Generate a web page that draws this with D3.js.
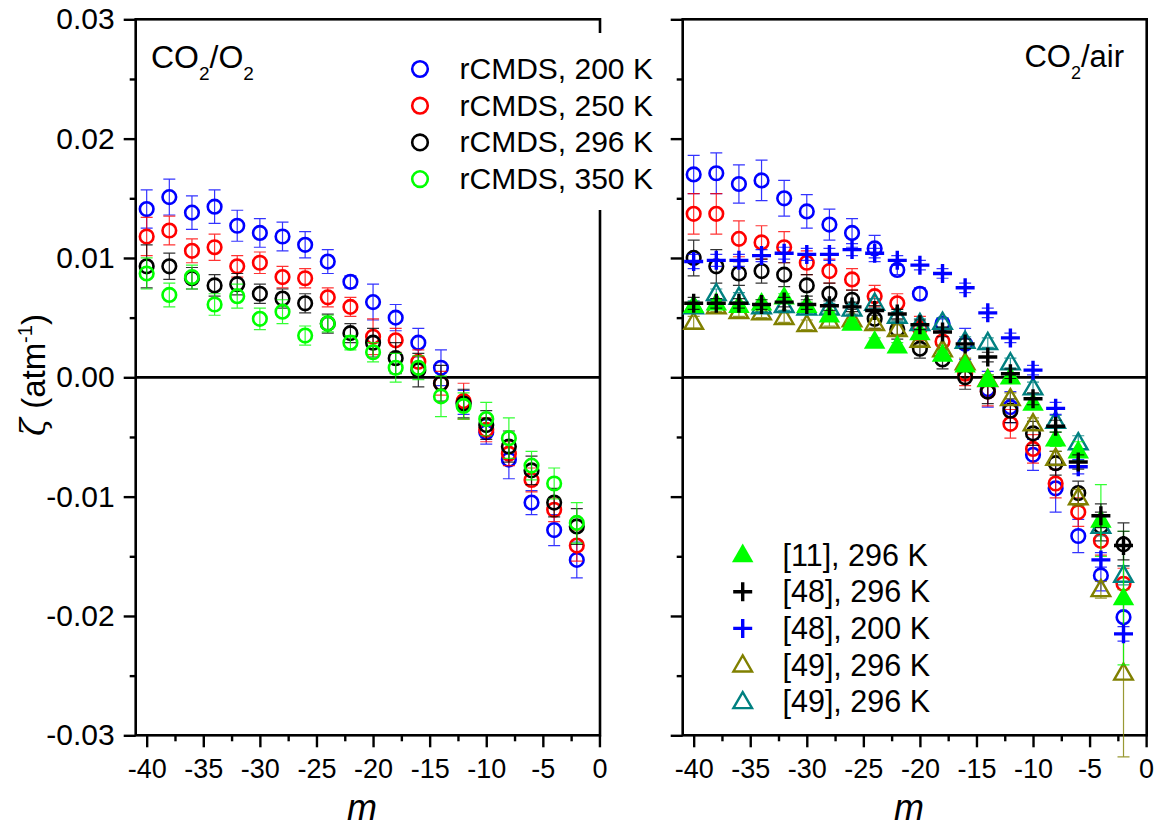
<!DOCTYPE html>
<html>
<head>
<meta charset="utf-8">
<script src="https://cdn.jsdelivr.net/npm/d3@7"></script>
<style>
  body { margin: 0; background: #fff; }
  svg { display: block; font-family: "Liberation Sans", Arial, sans-serif; }
</style>
</head>
<body>
<div id="chart"></div>
<script>
// rotational index m for every point
const mVals = [-40, -38, -36, -34, -32, -30, -28, -26, -24, -22, -20, -18, -16, -14, -12, -10, -8, -6, -4, -2];

// ---- left panel: CO2/O2, rCMDS ----
const o2_200    = [0.0141, 0.0151, 0.0138, 0.0143, 0.0127, 0.0121, 0.0118, 0.0111, 0.0097, 0.0080, 0.0063, 0.0050, 0.0029, 0.0008, -0.0021, -0.0046, -0.0069, -0.0105, -0.0128, -0.0153];
const o2_200Err = [0.0016, 0.0015, 0.0014, 0.0014, 0.0013, 0.0012, 0.0012, 0.0011, 0.0010, 0.0005, 0.0015, 0.0011, 0.0012, 0.0015, 0.0010, 0.0010, 0.0016, 0.0010, 0.0013, 0.0015];
const o2_250    = [0.0118, 0.0123, 0.0106, 0.0109, 0.0093, 0.0096, 0.0084, 0.0083, 0.0067, 0.0059, 0.0034, 0.0031, 0.0013, -0.0005, -0.0020, -0.0044, -0.0064, -0.0086, -0.0111, -0.0141];
const o2_250Err = [0.0016, 0.0012, 0.0010, 0.0011, 0.0009, 0.0009, 0.0009, 0.0008, 0.0008, 0.0008, 0.0015, 0.0010, 0.0010, 0.0010, 0.0015, 0.0010, 0.0010, 0.0010, 0.0010, 0.0013];
const o2_296    = [0.0093, 0.0093, 0.0083, 0.0077, 0.0078, 0.0070, 0.0066, 0.0062, 0.0045, 0.0037, 0.0029, 0.0016, 0.0006, -0.0005, -0.0022, -0.0040, -0.0058, -0.0078, -0.0105, -0.0125];
const o2_296Err = [0.0018, 0.0011, 0.0009, 0.0009, 0.0009, 0.0008, 0.0008, 0.0008, 0.0008, 0.0008, 0.0012, 0.0013, 0.0014, 0.0015, 0.0012, 0.0012, 0.0013, 0.0012, 0.0012, 0.0015];
const o2_350    = [0.0087, 0.0069, 0.0084, 0.0061, 0.0068, 0.0049, 0.0055, 0.0035, 0.0045, 0.0029, 0.0021, 0.0008, 0.0008, -0.0016, -0.0024, -0.0035, -0.0051, -0.0074, -0.0089, -0.0122];
const o2_350Err = [0.0013, 0.0010, 0.0010, 0.0009, 0.0010, 0.0009, 0.0010, 0.0008, 0.0007, 0.0006, 0.0008, 0.0012, 0.0010, 0.0017, 0.0011, 0.0014, 0.0017, 0.0012, 0.0013, 0.0017];

// ---- right panel: CO2/air, rCMDS and literature ----
const air_200    = [0.0170, 0.0171, 0.0162, 0.0165, 0.0150, 0.0139, 0.0128, 0.0121, 0.0108, 0.0090, 0.0070, 0.0045, 0.0028, -0.0010, -0.0025, -0.0065, -0.0093, -0.0133, -0.0166, -0.0201];
const air_200Err = [0.0016, 0.0017, 0.0016, 0.0017, 0.0015, 0.0014, 0.0013, 0.0012, 0.0011, 0.0004, 0.0005, 0.0004, 0.0013, 0.0015, 0.0013, 0.0013, 0.0020, 0.0014, 0.0013, 0.0014];
const air_250    = [0.0137, 0.0137, 0.0116, 0.0113, 0.0109, 0.0096, 0.0089, 0.0082, 0.0068, 0.0062, 0.0041, 0.0030, 0.0003, -0.0012, -0.0039, -0.0060, -0.0089, -0.0113, -0.0137, -0.0173];
const air_250Err = [0.0017, 0.0017, 0.0015, 0.0014, 0.0013, 0.0010, 0.0010, 0.0009, 0.0009, 0.0008, 0.0010, 0.0010, 0.0010, 0.0012, 0.0012, 0.0012, 0.0012, 0.0012, 0.0012, 0.0013];
const air_296    = [0.0100, 0.0093, 0.0087, 0.0089, 0.0086, 0.0077, 0.0070, 0.0065, 0.0049, 0.0040, 0.0024, 0.0015, 0.0000, -0.0012, -0.0028, -0.0047, -0.0072, -0.0097, -0.0125, -0.0140];
const air_296Err = [0.0015, 0.0014, 0.0010, 0.0010, 0.0010, 0.0009, 0.0009, 0.0008, 0.0008, 0.0008, 0.0008, 0.0008, 0.0010, 0.0010, 0.0010, 0.0010, 0.0010, 0.0010, 0.0012, 0.0018];
const ref11_296    = [0.0060, 0.0062, 0.0060, 0.0062, 0.0067, 0.0060, 0.0052, 0.0045, 0.0030, 0.0026, 0.0037, 0.0019, 0.0010, -0.0002, 0.0000, -0.0022, -0.0052, -0.0062, -0.0120, -0.0185];
const ref11_296Err = [0.0003, 0.0003, 0.0003, 0.0003, 0.0003, 0.0003, 0.0003, 0.0003, 0.0003, 0.0003, 0.0003, 0.0003, 0.0003, 0.0004, 0.0004, 0.0005, 0.0006, 0.0008, 0.0030, 0.0056];
const ref48_296    = [0.0062, 0.0062, 0.0062, 0.0061, 0.0063, 0.0061, 0.0060, 0.0059, 0.0056, 0.0053, 0.0044, 0.0038, 0.0028, 0.0017, 0.0003, -0.0018, -0.0041, -0.0071, -0.0116, -0.0141];
const ref48_296Err = [0.0005, 0.0004, 0.0004, 0.0004, 0.0004, 0.0004, 0.0004, 0.0004, 0.0004, 0.0004, 0.0004, 0.0004, 0.0004, 0.0004, 0.0004, 0.0005, 0.0005, 0.0006, 0.0010, 0.0012];
const ref48_200    = [0.0097, 0.0098, 0.0098, 0.0102, 0.0104, 0.0103, 0.0103, 0.0107, 0.0104, 0.0098, 0.0094, 0.0087, 0.0075, 0.0054, 0.0033, 0.0006, -0.0026, -0.0075, -0.0153, -0.0215];
const ref48_200Err = [0.0006, 0.0005, 0.0005, 0.0005, 0.0005, 0.0005, 0.0005, 0.0005, 0.0004, 0.0004, 0.0004, 0.0004, 0.0004, 0.0004, 0.0004, 0.0004, 0.0005, 0.0006, 0.0006, 0.0006];
const ref49a_296    = [0.0046, 0.0059, 0.0055, 0.0054, 0.0050, 0.0044, 0.0047, 0.0048, 0.0045, 0.0040, 0.0031, 0.0023, 0.0012, -0.0002, -0.0018, -0.0039, -0.0068, -0.0101, -0.0178, -0.0248];
const ref49a_296Err = [0.0005, 0.0004, 0.0004, 0.0004, 0.0004, 0.0004, 0.0004, 0.0004, 0.0004, 0.0004, 0.0004, 0.0004, 0.0004, 0.0004, 0.0005, 0.0005, 0.0006, 0.0007, 0.0007, 0.0070];
const ref49b_296    = [0.0059, 0.0070, 0.0067, 0.0059, 0.0060, 0.0058, 0.0058, 0.0057, 0.0062, 0.0051, 0.0045, 0.0046, 0.0030, 0.0029, 0.0012, -0.0009, -0.0037, -0.0055, -0.0125, -0.0166];
const ref49b_296Err = [0.0005, 0.0004, 0.0004, 0.0004, 0.0004, 0.0004, 0.0004, 0.0004, 0.0004, 0.0004, 0.0004, 0.0004, 0.0004, 0.0004, 0.0004, 0.0005, 0.0005, 0.0006, 0.0008, 0.0008];

// axis ticks and labels
const xMajor = [-40, -35, -30, -25, -20, -15, -10, -5, 0];
const xMinor = [-37.5, -32.5, -27.5, -22.5, -17.5, -12.5, -7.5, -2.5];
const yMajor = [-0.03, -0.02, -0.01, 0, 0.01, 0.02, 0.03];
const yMajorLabels = ["-0.03", "-0.02", "-0.01", "0.00", "0.01", "0.02", "0.03"];
const yMinor = [-0.025, -0.015, -0.005, 0.005, 0.015, 0.025];

const leftLegend  = ["rCMDS, 200 K", "rCMDS, 250 K", "rCMDS, 296 K", "rCMDS, 350 K"];
const rightLegend = ["[11], 296 K", "[48], 296 K", "[48], 200 K", "[49], 296 K", "[49], 296 K"];

const C = { blue: "#0000ff", red: "#ff0000", black: "#000000", green: "#00ff00", olive: "#808000", teal: "#008080" };

const leftSeries = [
  { y: o2_200, err: o2_200Err, color: C.blue,  shape: "circle" },
  { y: o2_250, err: o2_250Err, color: C.red,   shape: "circle" },
  { y: o2_296, err: o2_296Err, color: C.black, shape: "circle" },
  { y: o2_350, err: o2_350Err, color: C.green, shape: "circle" }
];
const rightSeries = [
  { y: air_200,    err: air_200Err,    color: C.blue,  shape: "circle" },
  { y: air_250,    err: air_250Err,    color: C.red,   shape: "circle" },
  { y: air_296,    err: air_296Err,    color: C.black, shape: "circle" },
  { y: ref49a_296, err: ref49a_296Err, color: C.olive, shape: "tri" },
  { y: ref49b_296, err: ref49b_296Err, color: C.teal,  shape: "tri" },
  { y: ref11_296,  err: ref11_296Err,  color: C.green, shape: "triFill" },
  { y: ref48_200,  err: ref48_200Err,  color: C.blue,  shape: "plus" },
  { y: ref48_296,  err: ref48_296Err,  color: C.black, shape: "plus" }
];
const rightLegendStyle = [
  { color: C.green, shape: "triFill" },
  { color: C.black, shape: "plus" },
  { color: C.blue,  shape: "plus" },
  { color: C.olive, shape: "tri" },
  { color: C.teal,  shape: "tri" }
];

const W = 1158, H = 829;
const yTop = 19.3, yBot = 735.3;
const svg = d3.select("#chart").append("svg").attr("width", W).attr("height", H);

const y = d3.scaleLinear().domain([-0.03, 0.03]).range([yBot, yTop]);

const triPath = d3.symbol().type(d3.symbolTriangle);

function marker(g, shape, color, cx, cy) {
  if (shape === "circle") {
    g.append("circle").attr("cx", cx).attr("cy", cy).attr("r", 6.8)
      .attr("fill", "none").attr("stroke", color).attr("stroke-width", 2.6);
  } else if (shape === "tri") {
    g.append("path").attr("d", triPath.size(150)())
      .attr("transform", `translate(${cx},${cy + 1})`)
      .attr("fill", "none").attr("stroke", color).attr("stroke-width", 2.4);
  } else if (shape === "triFill") {
    g.append("path").attr("d", triPath.size(200)())
      .attr("transform", `translate(${cx},${cy + 1})`)
      .attr("fill", color).attr("stroke", "none");
  } else if (shape === "plus") {
    g.append("path").attr("d", `M${cx - 9.5},${cy}H${cx + 9.5}M${cx},${cy - 9.5}V${cy + 9.5}`)
      .attr("stroke", color).attr("stroke-width", 3.4).attr("fill", "none");
  }
}

function drawPanel(x0, x1, series) {
  const x = d3.scaleLinear().domain([-40.97, 0.05]).range([x0, x1]);
  const g = svg.append("g");

  // ticks
  g.append("g").attr("transform", `translate(0,${yBot})`)
    .call(d3.axisBottom(x).tickValues(xMajor).tickSizeInner(12).tickSizeOuter(0).tickPadding(11.5).tickFormat(d => String(d)))
    .call(a => a.select(".domain").remove())
    .call(a => a.selectAll("line").attr("stroke-width", 2.4))
    .call(a => a.selectAll("text").attr("font-size", 27).attr("font-family", "Liberation Sans, Arial, sans-serif").attr("fill", "#000"));
  g.append("g").attr("transform", `translate(0,${yBot})`)
    .call(d3.axisBottom(x).tickValues(xMinor).tickSizeInner(6).tickSizeOuter(0).tickFormat(""))
    .call(a => a.select(".domain").remove())
    .call(a => a.selectAll("line").attr("stroke-width", 2.4));

  g.append("g").attr("transform", `translate(${x0},0)`)
    .call(d3.axisLeft(y).tickValues(yMajor).tickSizeInner(12).tickSizeOuter(0).tickPadding(9)
      .tickFormat((d, i) => x0 < 300 ? yMajorLabels[i] : ""))
    .call(a => a.select(".domain").remove())
    .call(a => a.selectAll("line").attr("stroke-width", 2.4))
    .call(a => a.selectAll("text").attr("font-size", 30).attr("font-family", "Liberation Sans, Arial, sans-serif").attr("fill", "#000"));
  g.append("g").attr("transform", `translate(${x0},0)`)
    .call(d3.axisLeft(y).tickValues(yMinor).tickSizeInner(6).tickSizeOuter(0).tickFormat(""))
    .call(a => a.select(".domain").remove())
    .call(a => a.selectAll("line").attr("stroke-width", 2.4));

  // frame and zero line
  g.append("rect").attr("x", x0).attr("y", yTop).attr("width", x1 - x0).attr("height", yBot - yTop)
    .attr("fill", "none").attr("stroke", "#000").attr("stroke-width", 2.6);
  g.append("line").attr("x1", x0).attr("x2", x1).attr("y1", y(0)).attr("y2", y(0))
    .attr("stroke", "#000").attr("stroke-width", 2.8);

  // error bars + markers
  series.forEach(s => {
    const sg = g.append("g");
    mVals.forEach((m, i) => {
      const v = s.y[i];
      if (v == null) return;
      const cx = x(m), e = s.err[i];
      const ya = y(v + e), yb = y(v - e);
      sg.append("path")
        .attr("d", `M${cx},${ya}V${yb}M${cx - 6},${ya}H${cx + 6}M${cx - 6},${yb}H${cx + 6}`)
        .attr("stroke", s.color).attr("stroke-width", 1.2).attr("fill", "none").attr("opacity", 0.8);
      marker(sg, s.shape, s.color, cx, y(v));
    });
  });
  return g;
}

drawPanel(135.7, 600, leftSeries);

// left legend (white box overlaps the frame)
const lg = svg.append("g");
lg.append("rect").attr("x", 400).attr("y", 33).attr("width", 266).attr("height", 177).attr("fill", "#fff");
leftSeries.forEach((s, i) => {
  const cy = 69 + i * 36.7;
  lg.append("circle").attr("cx", 420).attr("cy", cy).attr("r", 7.8)
    .attr("fill", "none").attr("stroke", s.color).attr("stroke-width", 2.6);
  lg.append("text").attr("x", 459.5).attr("y", cy + 9.8).attr("font-size", 30).text(leftLegend[i]);
});

drawPanel(682.7, 1146.7, rightSeries);

// right legend
const rg = svg.append("g");
rightLegendStyle.forEach((s, i) => {
  const cy = 555 + i * 36.7;
  marker(rg, s.shape, s.color, 742.7, cy);
  rg.append("text").attr("x", 782.5).attr("y", cy + 10.5).attr("font-size", 30.5).text(rightLegend[i]);
});

// panel annotations
const a1 = svg.append("text").attr("x", 151).attr("y", 67.5).attr("font-size", 32);
a1.append("tspan").text("CO");
a1.append("tspan").attr("font-size", 19).attr("dy", 12).text("2");
a1.append("tspan").attr("dy", -12).text("/O");
a1.append("tspan").attr("font-size", 19).attr("dy", 12).text("2");

const a2 = svg.append("text").attr("x", 1124).attr("y", 66.7).attr("font-size", 31).attr("text-anchor", "end");
a2.append("tspan").text("CO");
a2.append("tspan").attr("font-size", 18).attr("dy", 12).text("2");
a2.append("tspan").attr("dy", -12).text("/air");

// axis titles
const yt = svg.append("text").attr("transform", "translate(45,375) rotate(-90)")
  .attr("text-anchor", "middle").attr("font-size", 33);
yt.append("tspan").attr("font-style", "italic").attr("font-family", "DejaVu Serif, serif").text("ζ");
yt.append("tspan").text(" (atm");
yt.append("tspan").attr("font-size", 20).attr("dy", -13).text("-1");
yt.append("tspan").attr("dy", 13).text(")");

svg.append("text").attr("x", 362).attr("y", 820).attr("text-anchor", "middle")
  .attr("font-size", 36).attr("font-style", "italic").text("m");
svg.append("text").attr("x", 909).attr("y", 820).attr("text-anchor", "middle")
  .attr("font-size", 36).attr("font-style", "italic").text("m");
</script>
</body>
</html>
